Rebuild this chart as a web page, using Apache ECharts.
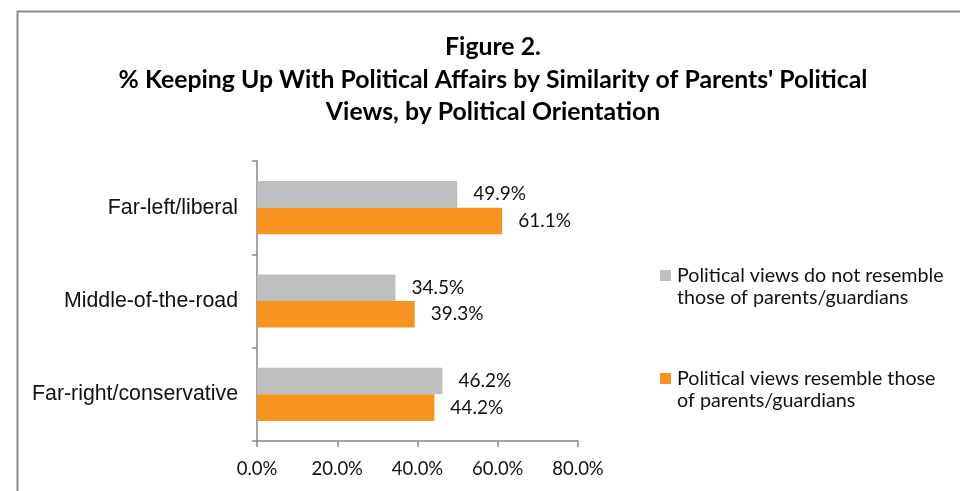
<!DOCTYPE html>
<html>
<head>
<meta charset="utf-8">
<script src="https://cdn.jsdelivr.net/npm/echarts@6/dist/echarts.min.js"></script>
<style>html,body{margin:0;padding:0;background:#fff}#c{width:960px;height:491px}</style>
</head>
<body>
<div id="c"></div>
<script>
var categories = ['Far-left/liberal', 'Middle-of-the-road', 'Far-right/conservative'];
var seriesNames = ['Political views do not resemble\nthose of parents/guardians', 'Political views resemble those\nof parents/guardians'];
var notResemble = [49.9, 34.5, 46.2];
var resemble = [61.1, 39.3, 44.2];
var xTicks = [0, 20, 40, 60, 80];
var colors = ['#BFBFBF', '#F79320'];
var titleLines = ['Figure 2.', "% Keeping Up With Political Affairs by Similarity of Parents' Political", 'Views, by Political Orientation'];

var chart = echarts.init(document.getElementById('c'), null, {renderer: 'canvas'});
var calib = 'Lato, "Open Sans", sans-serif';

function legendGraphic(i, y) {
  return [
    {type: 'rect', left: 660, top: y, shape: {width: 11, height: 11}, style: {fill: colors[i]}},
    {type: 'text', left: 677, top: y - 6, style: {text: seriesNames[i], font: '19.7px ' + calib, fill: '#111', lineHeight: 22.5}}
  ];
}

chart.setOption({
  animation: false,
  title: {
    text: titleLines.join('\n'),
    left: 493, top: 31, padding: 0,
    textAlign: 'center',
    textStyle: {fontFamily: calib, fontWeight: 'bold', fontSize: 24.8, lineHeight: 32.5, color: '#000'}
  },
  grid: {left: 257, right: 382, top: 161, bottom: 50, containLabel: false},
  xAxis: {
    type: 'value', min: xTicks[0], max: xTicks[xTicks.length - 1], interval: 20,
    axisLine: {show: true, lineStyle: {color: '#868686', width: 1.5}},
    axisTick: {show: true, length: 6, lineStyle: {color: '#868686', width: 1.5}},
    splitLine: {show: false},
    axisLabel: {margin: 19, fontFamily: calib, fontSize: 18.5, color: '#111', formatter: function (v) { return v.toFixed(1) + '%'; }}
  },
  yAxis: {
    type: 'category', data: categories, inverse: true,
    axisLine: {show: true, lineStyle: {color: '#868686', width: 1.5}},
    axisTick: {show: true, length: 5, lineStyle: {color: '#868686', width: 1.5}},
    axisLabel: {margin: 19, fontFamily: '"Liberation Sans", Arial, sans-serif', fontSize: 21.3, color: '#111'}
  },
  series: [
    {name: seriesNames[0], type: 'bar', data: notResemble, barGap: '0%', barCategoryGap: '43%',
     itemStyle: {color: colors[0]},
     label: {show: true, position: 'right', distance: 16, fontFamily: calib, fontSize: 19, color: '#111',
             formatter: function (p) { return p.value.toFixed(1) + '%'; }}},
    {name: seriesNames[1], type: 'bar', data: resemble, barGap: '0%', barCategoryGap: '43%',
     itemStyle: {color: colors[1]},
     label: {show: true, position: 'right', distance: 16, fontFamily: calib, fontSize: 19, color: '#111',
             formatter: function (p) { return p.value.toFixed(1) + '%'; }}}
  ],
  graphic: [
    {type: 'rect', left: 15, top: 9, shape: {x: 0, y: 0, width: 1000, height: 600}, style: {fill: null, stroke: '#8a8a8a', lineWidth: 2}}
  ].concat(legendGraphic(0, 270)).concat(legendGraphic(1, 373))
});
</script>
</body>
</html>
